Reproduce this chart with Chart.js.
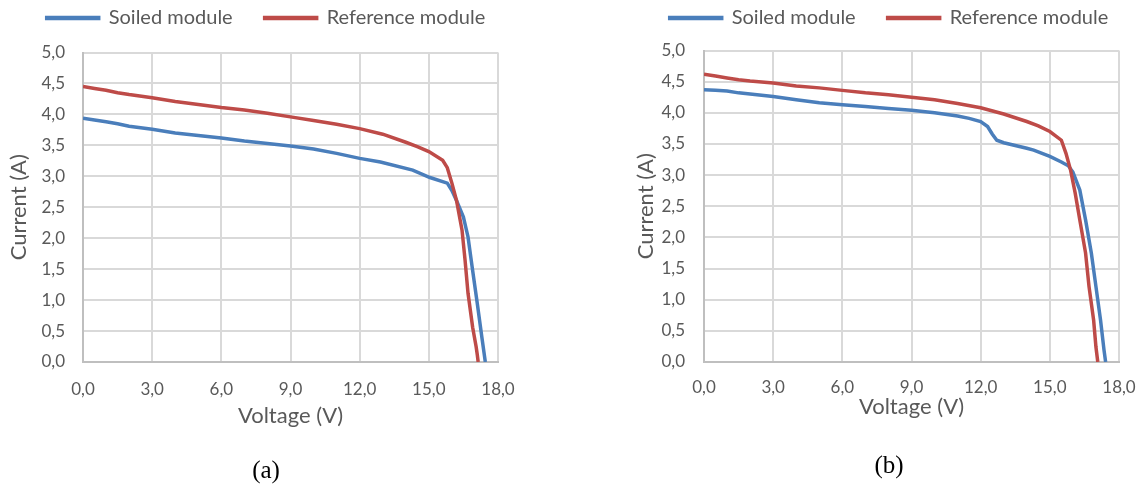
<!DOCTYPE html>
<html>
<head>
<meta charset="utf-8">
<script src="https://cdn.jsdelivr.net/npm/chart.js@4.4.0/dist/chart.umd.min.js"></script>
<style>
  html, body { margin: 0; padding: 0; background: #fff; }
  body { width: 1141px; height: 489px; position: relative; overflow: hidden; }
  canvas { position: absolute; top: 0; }
  #chartA { left: 0; }
  #chartB { left: 629px; }
</style>
</head>
<body>
<canvas id="chartA" width="530" height="489"></canvas>
<canvas id="chartB" width="520" height="489"></canvas>
<script>
// Curvas I-V (a)
const voltSoiledA = [0, 0.5, 1, 1.5, 2, 3, 4, 5, 6, 7, 8, 9, 10, 11, 12, 12.9, 14.3, 15.05, 15.8, 16.0, 16.2, 16.5, 16.7, 16.9, 17.1, 17.3, 17.45];
const ampSoiledA  = [3.94, 3.91, 3.88, 3.85, 3.81, 3.76, 3.70, 3.66, 3.62, 3.57, 3.53, 3.49, 3.44, 3.37, 3.29, 3.23, 3.10, 2.98, 2.89, 2.77, 2.61, 2.34, 2.02, 1.48, 0.95, 0.40, 0.0];
const voltRefA = [0, 0.5, 1, 1.5, 2, 3, 4, 5, 6, 7, 8, 9, 10, 11, 12, 13, 14, 14.5, 15, 15.6, 15.8, 16.0, 16.2, 16.44, 16.57, 16.7, 16.9, 17.05, 17.1, 17.14];
const ampRefA  = [4.45, 4.42, 4.39, 4.35, 4.32, 4.27, 4.21, 4.16, 4.11, 4.07, 4.02, 3.96, 3.90, 3.84, 3.77, 3.68, 3.55, 3.48, 3.40, 3.26, 3.14, 2.89, 2.61, 2.13, 1.65, 1.11, 0.56, 0.25, 0.12, 0.0];

// Curvas I-V (b)
const voltSoiledB = [0, 0.5, 1, 1.5, 2, 3, 4, 5, 6, 7, 8, 9, 10, 11, 11.5, 12, 12.3, 12.5, 12.7, 13, 14, 14.3, 15, 15.5, 15.8, 16.0, 16.3, 16.55, 16.8, 17.0, 17.2, 17.35, 17.42];
const ampSoiledB  = [4.37, 4.36, 4.35, 4.32, 4.30, 4.26, 4.21, 4.16, 4.13, 4.10, 4.07, 4.04, 4.00, 3.95, 3.91, 3.86, 3.78, 3.66, 3.56, 3.52, 3.43, 3.40, 3.30, 3.21, 3.15, 3.05, 2.76, 2.28, 1.75, 1.21, 0.67, 0.19, 0.0];
const voltRefB = [0, 0.5, 1, 1.5, 2, 3, 4, 5, 6, 7, 8, 9, 10, 11, 12, 13, 14, 14.5, 15, 15.5, 15.7, 15.9, 16.1, 16.3, 16.55, 16.7, 16.9, 17.0, 17.08];
const ampRefB  = [4.62, 4.59, 4.56, 4.53, 4.51, 4.48, 4.43, 4.40, 4.36, 4.32, 4.29, 4.25, 4.21, 4.15, 4.08, 3.98, 3.86, 3.79, 3.70, 3.56, 3.35, 3.08, 2.71, 2.28, 1.75, 1.21, 0.67, 0.24, 0.0];

// Eixos
const voltageTicks = { min: 0, max: 18, step: 3 };
const currentTicks = { min: 0, max: 5, step: 0.5 };
const seriesNames = ['Soiled module', 'Reference module'];

const BLUE = '#4A7EBB';
const RED = '#BE4B48';
const GRID = '#D9D9D9';
const AXIS = '#BFBFBF';
const TEXT = '#595959';

Chart.defaults.font.family = 'Lato';

function toPoints(volts, amps) {
    return volts.map((v, i) => ({ x: v, y: amps[i] }));
}

function fmt(value) {
    return Number(value).toFixed(1).replace('.', ',');
}

function renderIV(canvasId, soiled, reference, o) {
    const ctx = document.getElementById(canvasId).getContext('2d');

    new Chart(ctx, {
        type: 'scatter',
        data: {
            datasets: [{
                label: seriesNames[0],
                data: soiled,
                showLine: true,
                borderColor: BLUE,
                backgroundColor: BLUE,
                borderWidth: 3.5,
                pointRadius: 0,
                order: 1
            }, {
                label: seriesNames[1],
                data: reference,
                showLine: true,
                borderColor: RED,
                backgroundColor: RED,
                borderWidth: 3.5,
                pointRadius: 0,
                order: 0
            }]
        },
        options: {
            responsive: false,
            animation: false,
            layout: { padding: { top: -24, left: o.padLeft, right: 0, bottom: 0 } },
            plugins: {
                legend: {
                    position: 'top',
                    labels: {
                        boxWidth: 52,
                        boxHeight: 1,
                        padding: 32,
                        color: TEXT,
                        font: { size: 20 },
                        sort: (a, b) => a.datasetIndex - b.datasetIndex
                    }
                },
                // espaçador entre legenda e área do gráfico
                subtitle: {
                    display: true,
                    text: '',
                    position: 'top',
                    weight: 500,
                    font: { size: 1, lineHeight: 1 },
                    padding: { top: o.spacer - 1, bottom: 0 }
                },
                title: {
                    display: true,
                    text: o.caption,
                    position: 'bottom',
                    color: '#000',
                    font: { family: 'Liberation Serif', size: 25, weight: 'normal', lineHeight: 1.2 },
                    padding: { top: o.capTop, bottom: o.capBottom }
                },
                tooltip: { enabled: false }
            },
            scales: {
                x: {
                    type: 'linear',
                    min: voltageTicks.min,
                    max: voltageTicks.max,
                    ticks: {
                        stepSize: voltageTicks.step,
                        padding: o.xTickPad,
                        color: TEXT,
                        font: { size: 17 },
                        maxRotation: 0,
                        callback: fmt
                    },
                    grid: { color: GRID, lineWidth: 2, drawTicks: false },
                    border: { color: AXIS, width: 2 },
                    title: {
                        display: true,
                        text: 'Voltage (V)',
                        color: TEXT,
                        font: { size: 22 },
                        padding: { top: 4, bottom: 4 }
                    },
                    afterFit: (s) => { s.height = o.xHeight; s.paddingRight = o.xPadRight; }
                },
                y: {
                    min: currentTicks.min,
                    max: currentTicks.max,
                    ticks: {
                        stepSize: currentTicks.step,
                        padding: o.yTickPad,
                        color: TEXT,
                        font: { size: 17 },
                        callback: fmt
                    },
                    grid: { color: GRID, lineWidth: 2, drawTicks: false },
                    border: { color: AXIS, width: 2 },
                    title: {
                        display: true,
                        text: 'Current (A)',
                        color: TEXT,
                        font: { size: 22 },
                        padding: { top: 4, bottom: 4 }
                    },
                    afterFit: (s) => { s.width = o.yWidth; }
                }
            }
        }
    });
}

renderIV('chartA', toPoints(voltSoiledA, ampSoiledA), toPoints(voltRefA, ampRefA), {
    padLeft: 2, yWidth: 81, xHeight: 71.2, xPadRight: 32, spacer: 14.5,
    xTickPad: 17, yTickPad: 18, caption: '(a)', capTop: 22.8, capBottom: 3
});

renderIV('chartB', toPoints(voltSoiledB, ampSoiledB), toPoints(voltRefB, ampRefB), {
    padLeft: 0, yWidth: 75, xHeight: 62.2, xPadRight: 30, spacer: 12.5,
    xTickPad: 15, yTickPad: 19, caption: '(b)', capTop: 26.8, capBottom: 8
});
</script>
</body>
</html>
